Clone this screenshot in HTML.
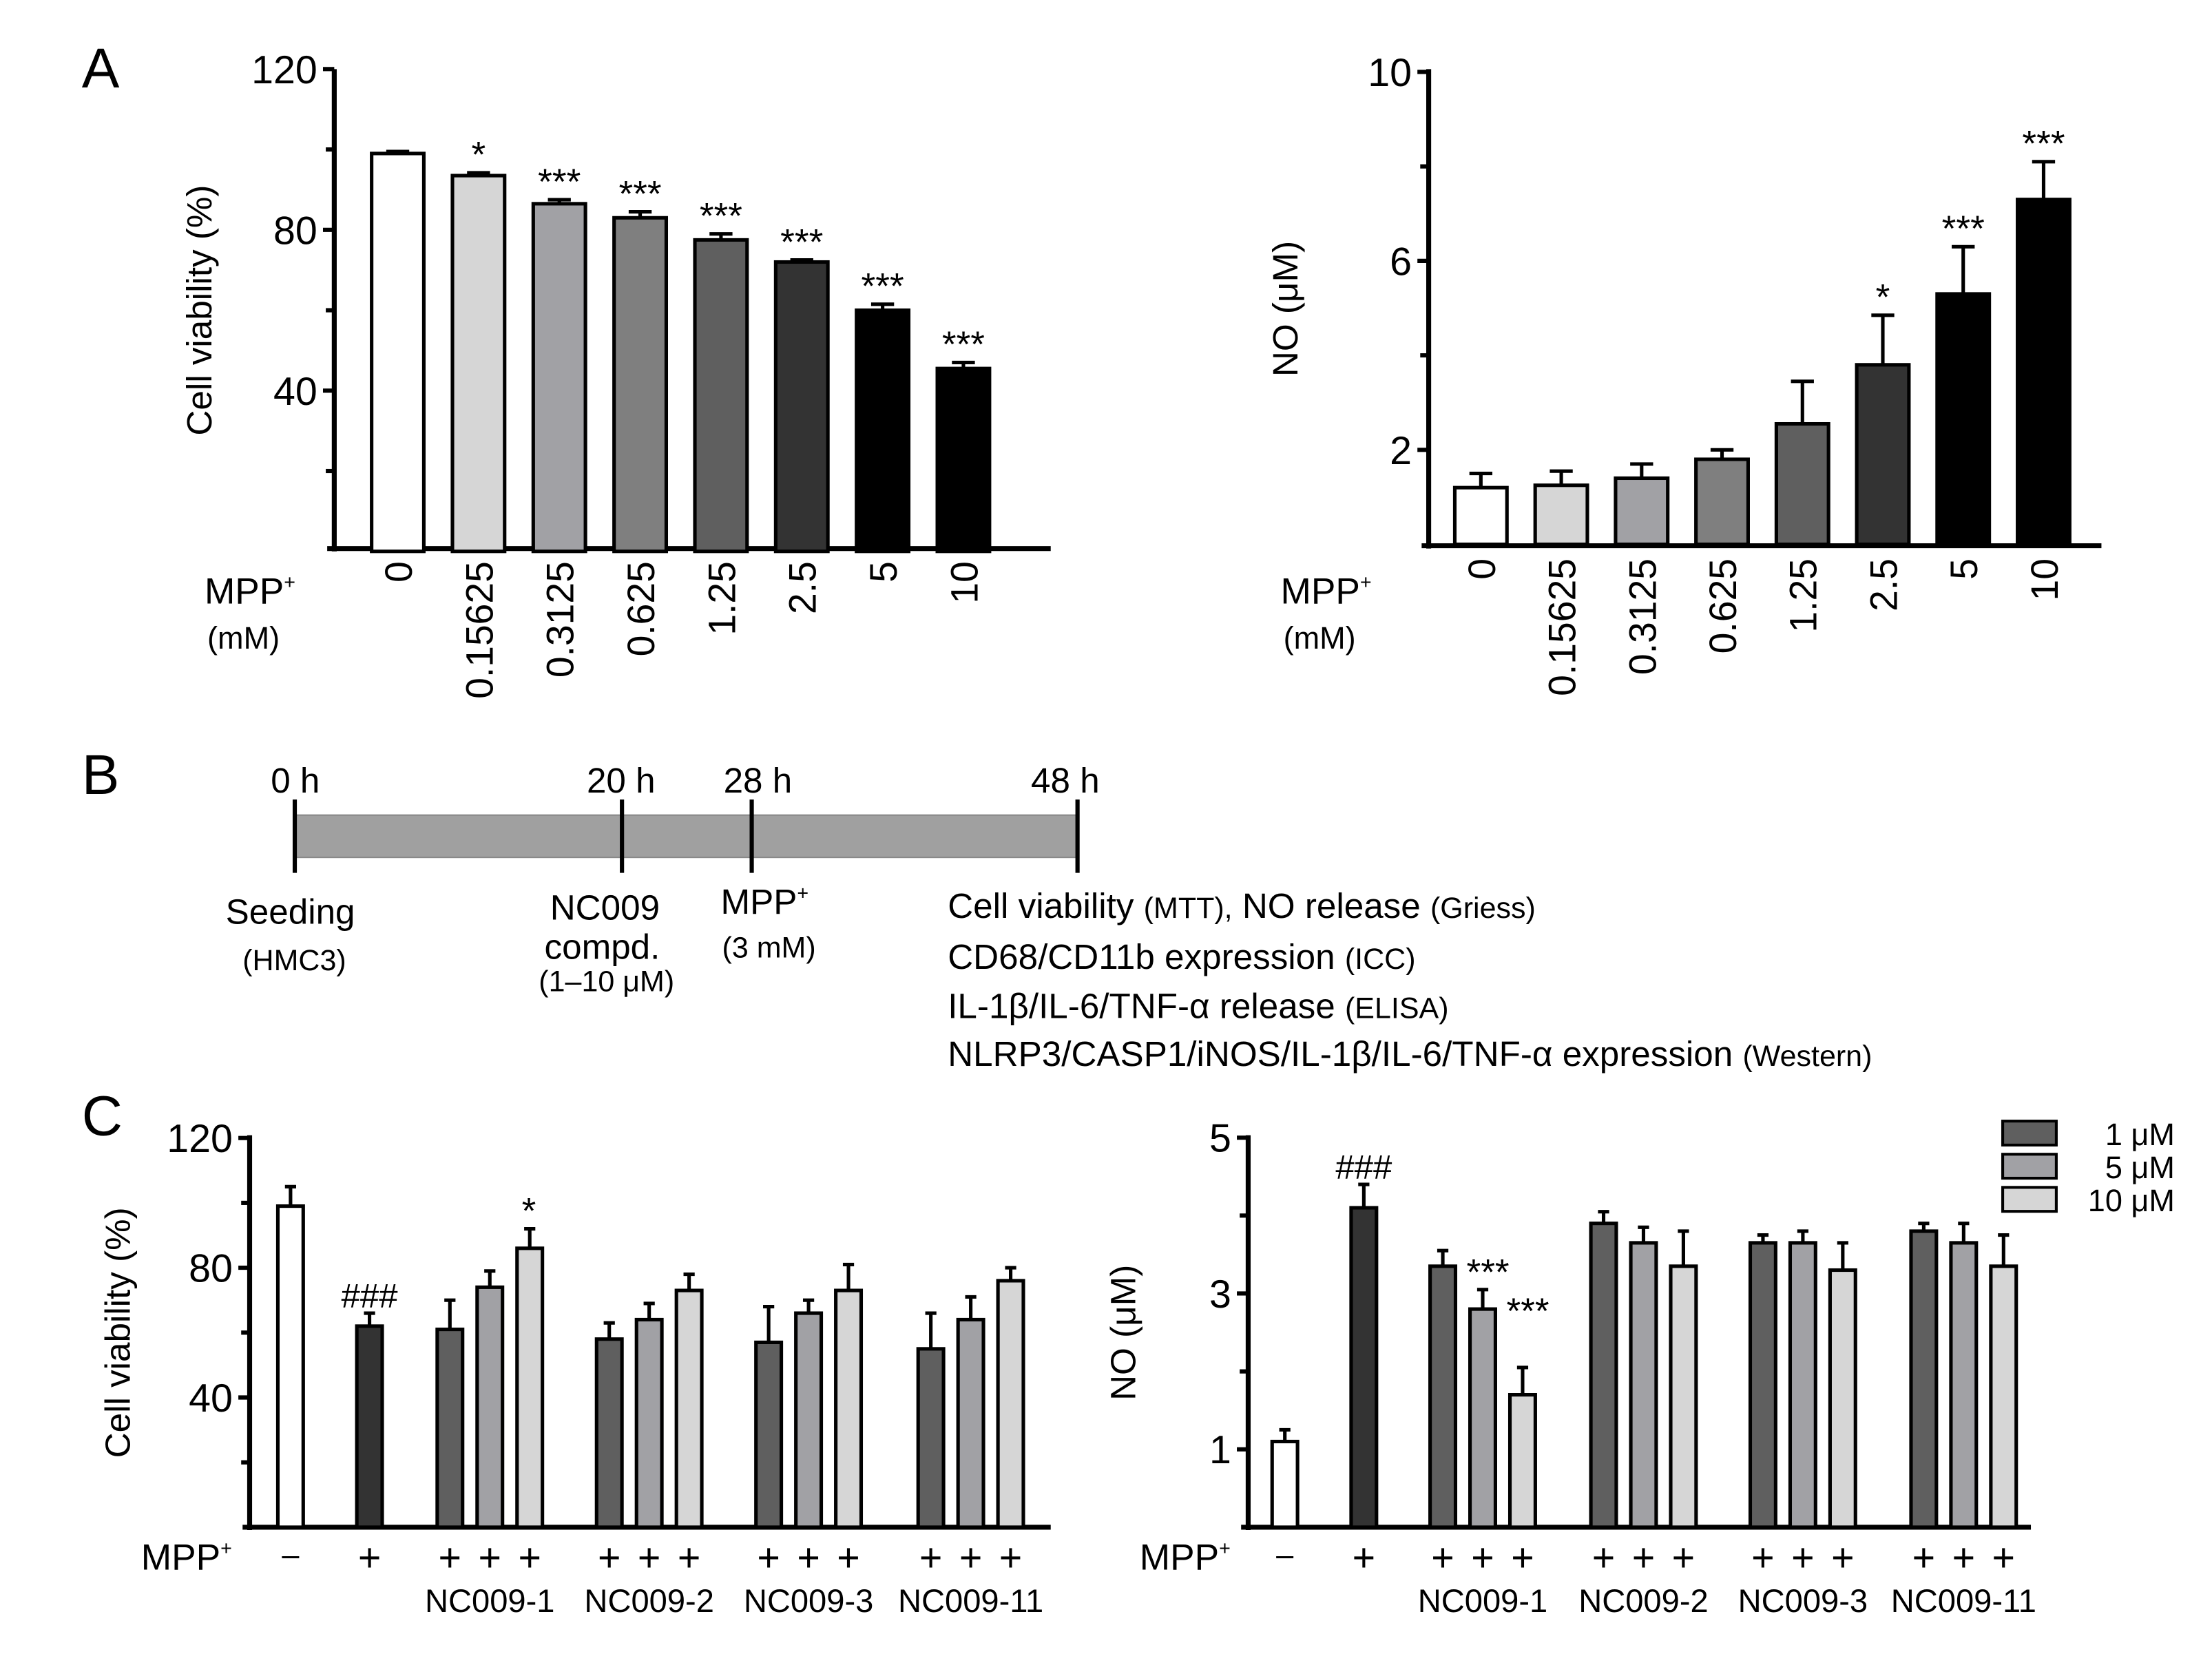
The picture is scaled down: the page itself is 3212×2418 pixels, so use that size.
<!DOCTYPE html>
<html><head><meta charset="utf-8"><style>
html,body{margin:0;padding:0;background:#fff}
svg{display:block}
text{font-family:"Liberation Sans",Arial,sans-serif;fill:#000}
</style></head><body>
<svg id="fig" xmlns="http://www.w3.org/2000/svg" width="3212" height="2418" viewBox="0 0 1568.4 1180.7">
<rect width="1568.4" height="1180.7" fill="#fff"/>
<text x="58" y="62" font-size="40">A</text>
<text x="58" y="563" font-size="40">B</text>
<text x="58" y="805" font-size="40">C</text>

<g id="timeline">
<rect x="209" y="578" width="555" height="30" fill="#a0a0a0" stroke="#888" stroke-width="1"/>
<line x1="209" y1="567" x2="209" y2="619" stroke="#000" stroke-width="3"/>
<line x1="441" y1="567" x2="441" y2="619" stroke="#000" stroke-width="3"/>
<line x1="533" y1="567" x2="533" y2="619" stroke="#000" stroke-width="3"/>
<line x1="764" y1="567" x2="764" y2="619" stroke="#000" stroke-width="3"/>
<g font-size="25">
<text x="192" y="562">0 h</text>
<text x="416" y="562">20 h</text>
<text x="513" y="562">28 h</text>
<text x="731" y="562">48 h</text>
<text x="160" y="655">Seeding</text>
<text x="390" y="652">NC009</text>
<text x="386" y="680">compd.</text>
<text x="511" y="648">MPP<tspan font-size="14" dy="-10">+</tspan></text>
<text x="672" y="651">Cell viability <tspan font-size="21">(MTT),</tspan> NO release <tspan font-size="21">(Griess)</tspan></text>
<text x="672" y="687">CD68/CD11b expression <tspan font-size="21">(ICC)</tspan></text>
<text x="672" y="722">IL-1β/IL-6/TNF-α release <tspan font-size="21">(ELISA)</tspan></text>
<text x="672" y="756">NLRP3/CASP1/iNOS/IL-1β/IL-6/TNF-α expression <tspan font-size="21">(Western)</tspan></text>
</g>
<g font-size="21">
<text x="172" y="688">(HMC3)</text>
<text x="382" y="703">(1–10 μM)</text>
<text x="512" y="679">(3 mM)</text>
</g>
</g>

<g id="a1"></g>
<g id="a2"></g>
<g id="c1"></g>
<g id="c2"></g>
</svg>
<script>
// Panel A data
const doseLabels = ["0","0.15625","0.3125","0.625","1.25","2.5","5","10"];
const aViability = [99, 93.5, 86.5, 83, 77.5, 72, 60, 45.5];
const aViabilityErr = [0.5, 0.7, 1, 1.5, 1.5, 0.5, 1.5, 1.5];
const aViabilitySig = ["", "*", "***", "***", "***", "***", "***", "***"];
const aNO = [1.2, 1.25, 1.4, 1.8, 2.55, 3.8, 5.3, 7.3];
const aNOErr = [0.3, 0.3, 0.3, 0.2, 0.9, 1.05, 1.0, 0.8];
const aNOSig = ["", "", "", "", "", "*", "***", "***"];
const aFills = ["#ffffff","#d6d6d6","#a1a1a5","#7f7f7f","#5f5f5f","#333333","#000000","#000000"];
// Panel C data
const cGroups = ["NC009-1","NC009-2","NC009-3","NC009-11"];
const cConcLabels = ["1 μM","5 μM","10 μM"];
const cViabCtrl = [99, 62];
const cViabCtrlErr = [6, 4];
const cViab1 = [61, 58, 57, 55];
const cViab5 = [74, 64, 66, 64];
const cViab10 = [86, 73, 73, 76];
const cViab1Err = [9, 5, 11, 11];
const cViab5Err = [5, 5, 4, 7];
const cViab10Err = [6, 5, 8, 4];
const cNOCtrl = [1.1, 4.1];
const cNOCtrlErr = [0.15, 0.3];
const cNO1 = [3.35, 3.9, 3.65, 3.8];
const cNO5 = [2.8, 3.65, 3.65, 3.65];
const cNO10 = [1.7, 3.35, 3.3, 3.35];
const cNO1Err = [0.2, 0.15, 0.1, 0.1];
const cNO5Err = [0.25, 0.2, 0.15, 0.25];
const cNO10Err = [0.35, 0.45, 0.35, 0.4];
const cViabTicks = [40, 80, 120];
const cNOTicks = [1, 3, 5];
const aViabTicks = [40, 80, 120];
const aNOTicks = [2, 6, 10];

const NS = "http://www.w3.org/2000/svg";
function mk(parent, tag, attrs, txt){
  const e = document.createElementNS(NS, tag);
  for (const k in attrs) e.setAttribute(k, attrs[k]);
  if (txt !== undefined) e.textContent = txt;
  parent.appendChild(e);
  return e;
}
function mpp(g, x, y, size){
  const t = mk(g, "text", {x:x, y:y, "font-size":size});
  
  
  const a = document.createElementNS(NS, "tspan");
  a.textContent = "MPP";
  t.appendChild(a);
  const b = document.createElementNS(NS, "tspan");
  b.setAttribute("font-size", Math.round(size * 0.55));
  b.setAttribute("dy", -size * 0.4);
  b.textContent = "+";
  t.appendChild(b);
  return t;
}
function bar(g, cx, w, v, err, fill, y, sig, sigSize){
  const top = y(v), base = y(0);
  const eTop = y(v + err);
  const l = mk(g, "line", {x1:cx, y1:top, x2:cx, y2:eTop, stroke:"#000", "stroke-width":2.5});
  
  
  const c = mk(g, "line", {x1:cx - w*0.22, y1:eTop, x2:cx + w*0.22, y2:eTop, stroke:"#000", "stroke-width":2.5});
  
  
  const r = mk(g, "rect", {x:cx - w/2, y:top, width:w, height:base - top, fill:fill, stroke:"#000", "stroke-width":2.5});
  
  
  if (sig){
    const t = mk(g, "text", {x:cx, y:eTop - 4, "font-size":sigSize || 26, "text-anchor":"middle"}, sig);
    
    
  }
}
function axis(g, ax, top, bottom, xEnd, y, ticks, minor, label, labelX){
  mk(g, "line", {x1:ax, y1:top - 2, x2:ax, y2:bottom + 2, stroke:"#000", "stroke-width":3.5});
  mk(g, "line", {x1:ax - 5, y1:bottom, x2:xEnd, y2:bottom, stroke:"#000", "stroke-width":3.5});
  ticks.forEach(v => {
    mk(g, "line", {x1:ax - 8, y1:y(v), x2:ax, y2:y(v), stroke:"#000", "stroke-width":3});
    const t = mk(g, "text", {x:ax - 12, y:y(v) + 10, "font-size":28, "text-anchor":"end"}, String(v));
    
    
  });
  minor.forEach(v => mk(g, "line", {x1:ax - 6, y1:y(v), x2:ax, y2:y(v), stroke:"#000", "stroke-width":3}));
  const midY = (top + bottom) / 2;
  const t = mk(g, "text", {x:labelX, y:midY, "font-size":25, "text-anchor":"middle", transform:`rotate(-90 ${labelX} ${midY})`}, label);
  
  
}

// A1
(function(){
  const g = document.getElementById("a1");
  const y = v => 391 - v * (114 / 40);
  axis(g, 237, 51, 389, 745, y, aViabTicks, [20, 60, 100], "Cell viability (%)", 150);
  const cx0 = 282, step = 57.3, w = 37;
  aViability.forEach((v, i) => bar(g, cx0 + i * step, w, v, aViabilityErr[i], aFills[i], y, aViabilitySig[i]));
  doseLabels.forEach((s, i) => {
    const x = cx0 + i * step + 10, yy = 398;
    const t = mk(g, "text", {x:x, y:yy, "font-size":27, "text-anchor":"end", transform:`rotate(-90 ${x} ${yy})`}, s);
    
    
  });
  mpp(g, 145, 428, 26);
  mk(g, "text", {x:147, y:460, "font-size":22}, "(mM)");
})();

// A2
(function(){
  const g = document.getElementById("a2");
  const y = v => 386 - v * 33.5;
  axis(g, 1013, 51, 387, 1490, y, aNOTicks, [4, 8], "NO (μM)", 920);
  const cx0 = 1050, step = 57, w = 37;
  aNO.forEach((v, i) => bar(g, cx0 + i * step, w, v, aNOErr[i], aFills[i], y, aNOSig[i]));
  doseLabels.forEach((s, i) => {
    const x = cx0 + i * step + 10, yy = 396;
    const t = mk(g, "text", {x:x, y:yy, "font-size":27, "text-anchor":"end", transform:`rotate(-90 ${x} ${yy})`}, s);
    
    
  });
  mpp(g, 908, 428, 26);
  mk(g, "text", {x:910, y:460, "font-size":22}, "(mM)");
})();

const concFills = ["#5f5f5f", "#a1a1a5", "#d6d6d6"];
function panelC(gid, ax, xEnd, y, ticks, minor, title, titleX, ctrl, ctrlErr, s1, s5, s10, e1, e5, e10, sigs, ctrlSig, legend, ctrlX, groupX){
  const g = document.getElementById(gid);
  axis(g, ax, 807, 1083, xEnd, y, ticks, minor, title, titleX);
  const w = 18;
  bar(g, ctrlX[0], w, ctrl[0], ctrlErr[0], "#ffffff", y, "");
  bar(g, ctrlX[1], w, ctrl[1], ctrlErr[1], "#333333", y, ctrlSig, 24);
  const series = [s1, s5, s10], errs = [e1, e5, e10];
  cGroups.forEach((name, gi) => {
    for (let k = 0; k < 3; k++){
      const cx = groupX[gi] + k * 28.3;
      bar(g, cx, w, series[k][gi], errs[k][gi], concFills[k], y, "");
      const sg = sigs[k][gi];
      if (sg){
        const t = mk(g, "text", {x:cx + 32, y:y(series[k][gi] + errs[k][gi]) + 24, "font-size":26, "text-anchor":"middle"}, sg);
        
        
      }
      const p = mk(g, "text", {x:cx, y:1114, "font-size":28, "text-anchor":"middle"}, "+");
      
      
    }
    const t = mk(g, "text", {x:groupX[gi] + 28.3, y:1143, "font-size":23, "text-anchor":"middle"}, name);
    
    
  });
  mk(g, "text", {x:ctrlX[0], y:1110, "font-size":22, "text-anchor":"middle"}, "–");
  mk(g, "text", {x:ctrlX[1], y:1114, "font-size":28, "text-anchor":"middle"}, "+");
  mpp(g, ax - 77, 1113, 26);
  if (legend){
    cConcLabels.forEach((s, k) => {
      const r = mk(g, "rect", {x:1420, y:795 + k * 23.5, width:38, height:17, fill:concFills[k], stroke:"#000", "stroke-width":2});
      
      
      const t = mk(g, "text", {x:1542, y:812 + k * 23.5, "font-size":22, "text-anchor":"end"}, s);
      
      
    });
  }
}
panelC("c1", 177, 745, v => 1083 - v * 2.3, cViabTicks, [20, 60, 100], "Cell viability (%)", 92,
  cViabCtrl, cViabCtrlErr, cViab1, cViab5, cViab10, cViab1Err, cViab5Err, cViab10Err,
  [["","","",""],["","","",""],["","","",""]], "###", false, [206, 262], [319, 432, 545, 660]);
(function(){
  const g = document.getElementById("c1");
  const y = v => 1083 - v * 2.3;
  const t = mk(g, "text", {x:375, y:y(cViab10[0] + cViab10Err[0]) - 4, "font-size":26, "text-anchor":"middle"}, "*");
  
  
})();
panelC("c2", 885, 1440, v => 1083 - v * 55.25, cNOTicks, [2, 4], "NO (μM)", 805,
  cNOCtrl, cNOCtrlErr, cNO1, cNO5, cNO10, cNO1Err, cNO5Err, cNO10Err,
  [["***","","",""],["***","","",""],["","","",""]], "###", true, [911, 967], [1023, 1137, 1250, 1364]);
</script>
</body></html>
